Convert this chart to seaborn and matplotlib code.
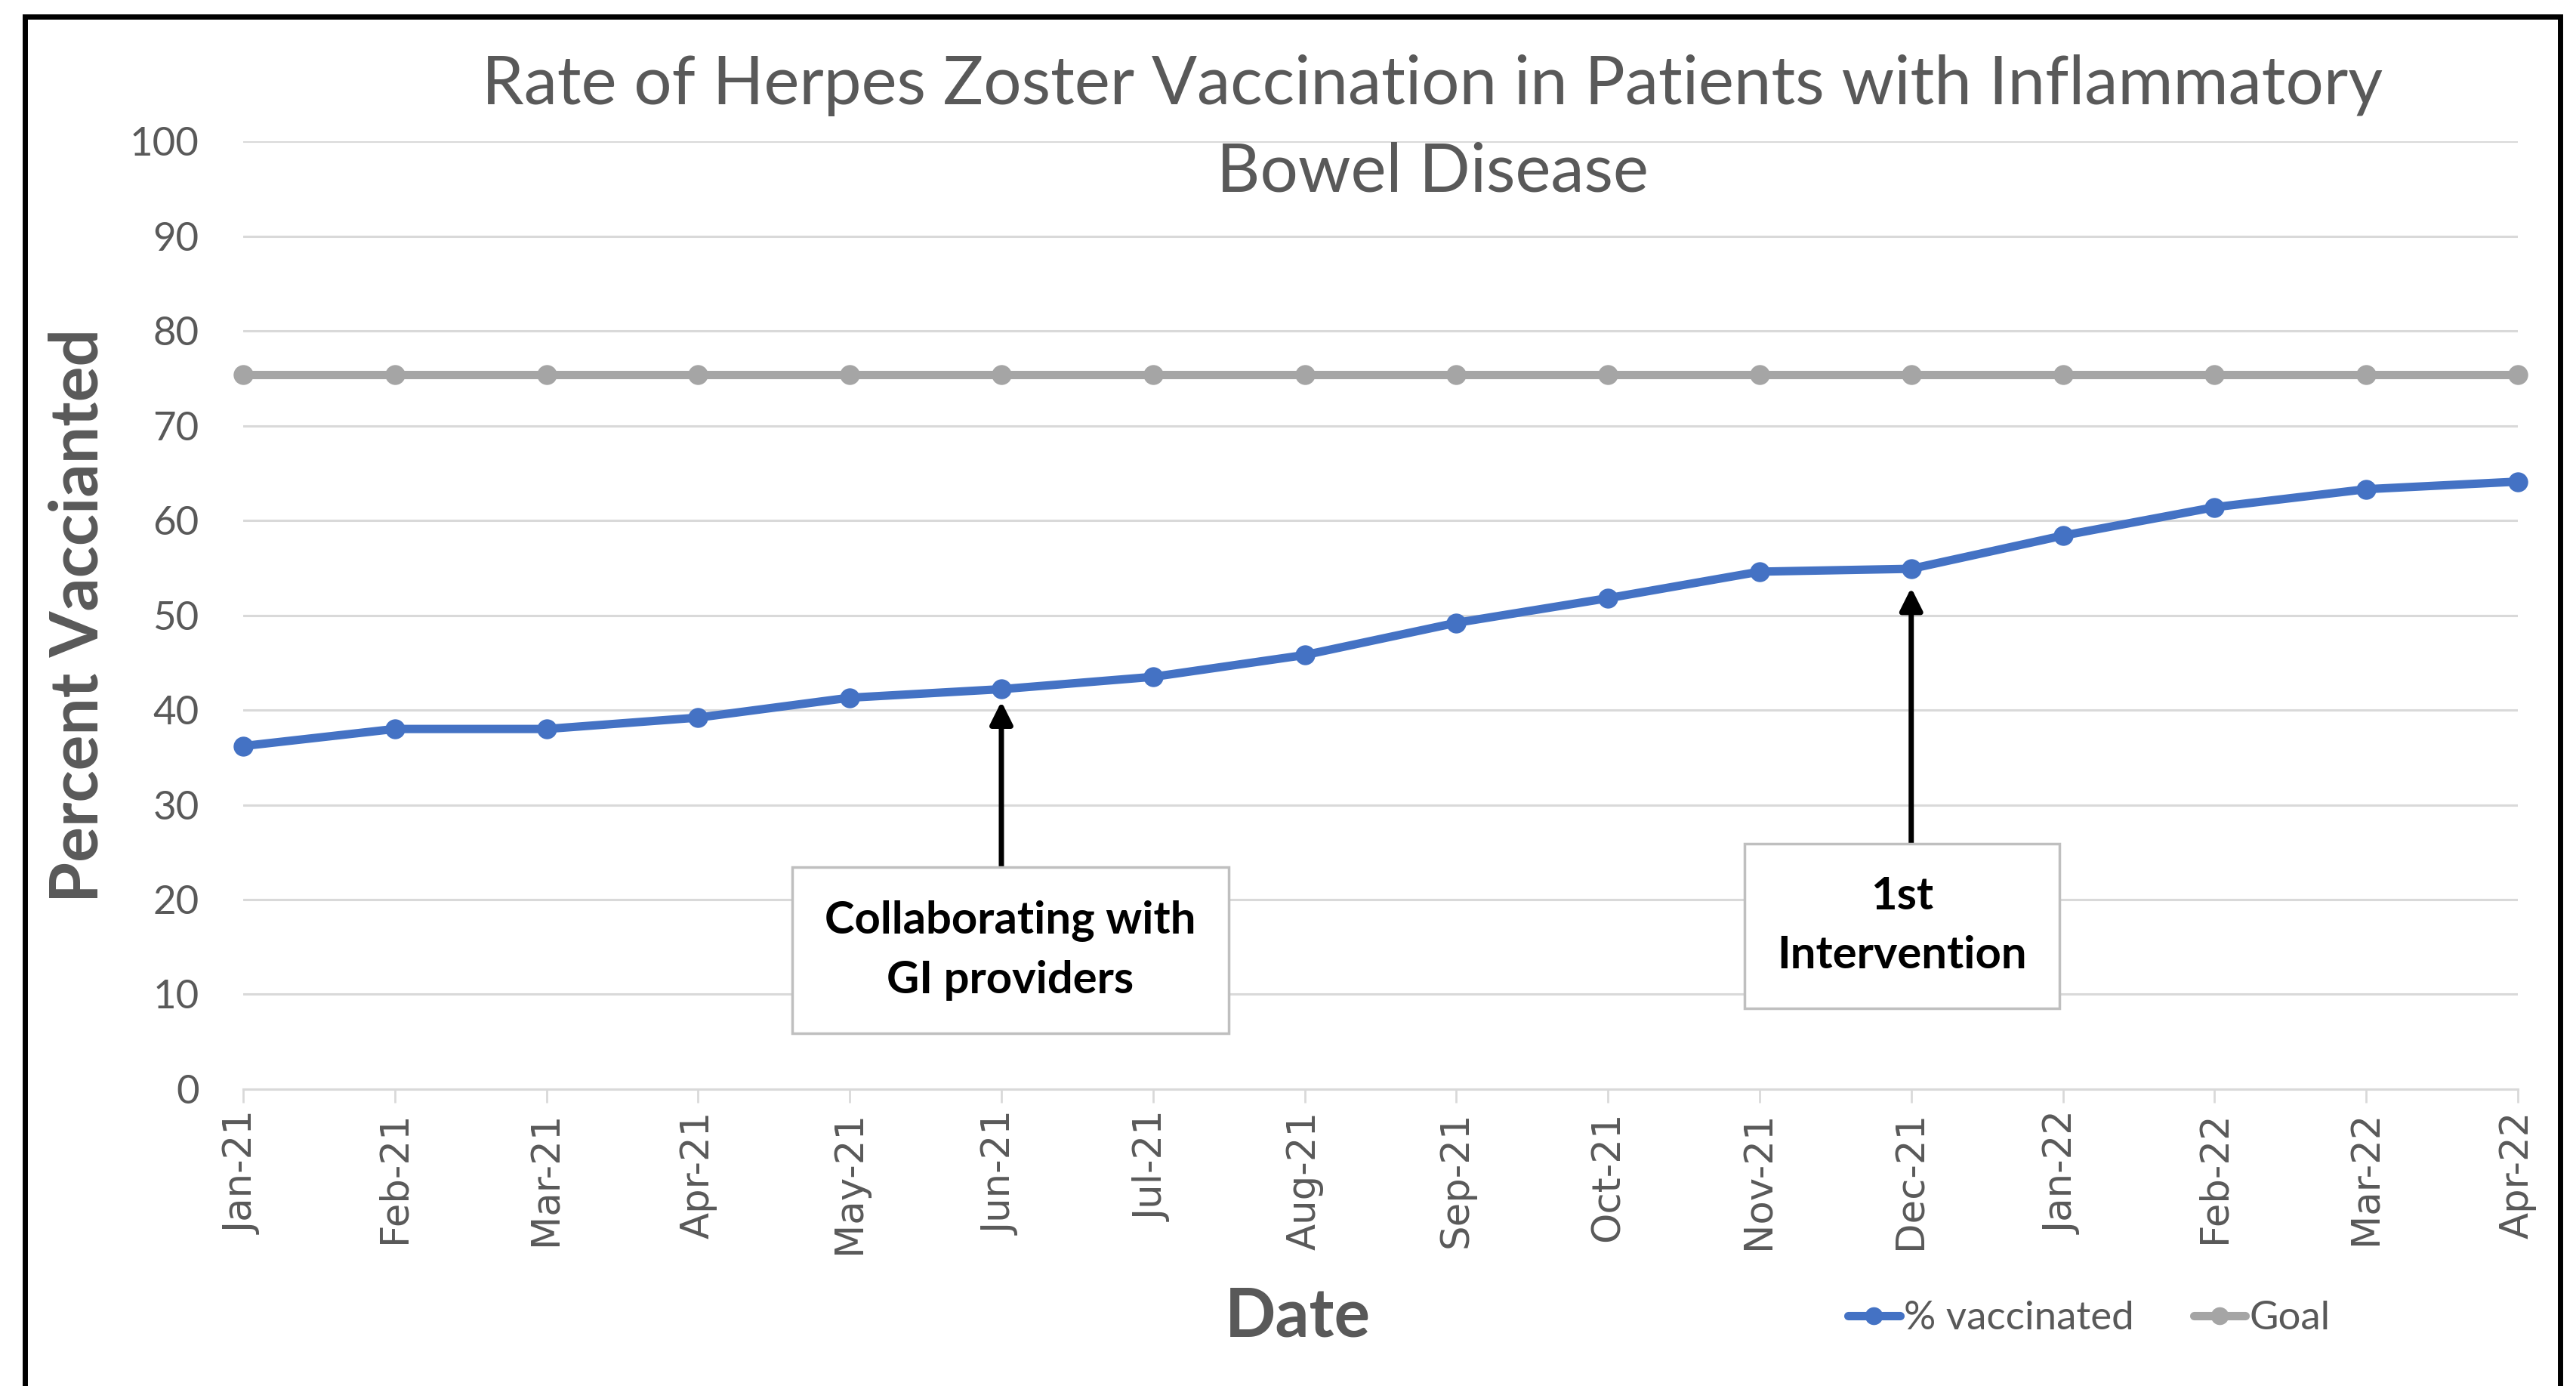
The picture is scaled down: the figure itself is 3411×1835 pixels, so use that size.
import matplotlib
matplotlib.use("Agg")
import matplotlib.pyplot as plt
import matplotlib.patches as mpatches
from matplotlib.lines import Line2D
import seaborn as sns
import pandas as pd

# 数据
months = ["Jan-21", "Feb-21", "Mar-21", "Apr-21", "May-21", "Jun-21", "Jul-21", "Aug-21",
          "Sep-21", "Oct-21", "Nov-21", "Dec-21", "Jan-22", "Feb-22", "Mar-22", "Apr-22"]
pct_vaccinated = [36.2, 38.0, 38.0, 39.2, 41.3, 42.2, 43.5, 45.8,
                  49.2, 51.8, 54.6, 54.9, 58.4, 61.4, 63.3, 64.1]
goal = [75.4] * len(months)

series_names = ["% vaccinated", "Goal"]
series_colors = ["#4472C4", "#A5A5A5"]

notes = ["Collaborating with\nGI providers", "1st\nIntervention"]
note_months = ["Jun-21", "Dec-21"]

df = pd.DataFrame({
    "Month": months * 2,
    "Value": pct_vaccinated + goal,
    "Series": [series_names[0]] * len(months) + [series_names[1]] * len(months),
})

sns.set_theme(style="white")
plt.rcParams["font.family"] = ["Lato", "DejaVu Sans"]

grey_txt = "#595959"
fig = plt.figure(figsize=(34.11, 18.35), dpi=100)
ax = fig.add_axes([0.0944, 0.2142, 0.883, 0.6838])

sns.lineplot(data=df, x="Month", y="Value", hue="Series", palette=series_colors,
             sort=False, marker="o", markersize=19, markeredgewidth=0,
             linewidth=8, ax=ax, legend=False)
for ln in ax.lines:
    ln.set_clip_on(False)

ax.set_xlim(0, len(months) - 1)
ax.set_ylim(0, 100)
ax.set_yticks(range(0, 101, 10))
ax.yaxis.grid(True, color="#d9d9d9", linewidth=2.2)
ax.set_axisbelow(True)
for s in ["top", "right", "left"]:
    ax.spines[s].set_visible(False)
ax.spines["bottom"].set_color("#d9d9d9")
ax.spines["bottom"].set_linewidth(2.2)

ax.tick_params(axis="y", length=0, pad=42, labelsize=38, labelcolor=grey_txt)
ax.tick_params(axis="x", length=13, width=2, color="#d9d9d9", pad=8,
               labelsize=37, labelcolor=grey_txt, rotation=90, bottom=True)
for lab in ax.get_xticklabels():
    lab.set_fontfamily("DejaVu Sans")

ax.set_ylabel("Percent Vaccianted", fontsize=63, fontweight="bold", color=grey_txt)
ax.yaxis.set_label_coords(-0.059, 0.5)
ax.set_xlabel("Date", fontsize=64, fontweight="bold", color=grey_txt)
ax.xaxis.set_label_coords(0.4635, -0.208)

fig.text(0.556, 0.907, "Rate of Herpes Zoster Vaccination in Patients with Inflammatory\nBowel Disease",
         ha="center", va="center", multialignment="center", fontsize=64,
         color=grey_txt, linespacing=1.5)

# 注释框和箭头
box_y = [14.6, 17.2]
box_dx = [0.06, -0.06]
arrow_tail = [22.5, 25.1]
arrow_head = [40.9, 52.9]
for txt, m, by, dx, yt, yh in zip(notes, note_months, box_y, box_dx, arrow_tail, arrow_head):
    xi = months.index(m)
    ax.annotate("", xy=(xi, yh), xytext=(xi, yt),
                arrowprops=dict(arrowstyle="-|>", color="black", lw=5,
                                mutation_scale=45, shrinkA=0, shrinkB=0))
    ax.text(xi + dx, by, txt, ha="center", va="center", fontsize=43,
            fontweight="bold", color="black", linespacing=1.55,
            bbox=dict(boxstyle="square,pad=0.72", facecolor="white",
                      edgecolor="#bfbfbf", linewidth=2.5))

handles = [Line2D([0], [0], color=c, lw=8, marker="o", markersize=16) for c in series_colors]
fig.legend(handles, series_names, loc="center", bbox_to_anchor=(0.811, 0.0486), ncol=2,
           frameon=False, fontsize=38, handlelength=1.3, handletextpad=0.1,
           columnspacing=1.5, labelcolor=grey_txt)

fig.patches.append(mpatches.Rectangle((33 / 3411, -0.05), (3390 - 33) / 3411, 1.05 - 22 / 1835,
                                      transform=fig.transFigure, fill=False,
                                      edgecolor="black", linewidth=5))

fig.savefig("out.png", dpi=100)
